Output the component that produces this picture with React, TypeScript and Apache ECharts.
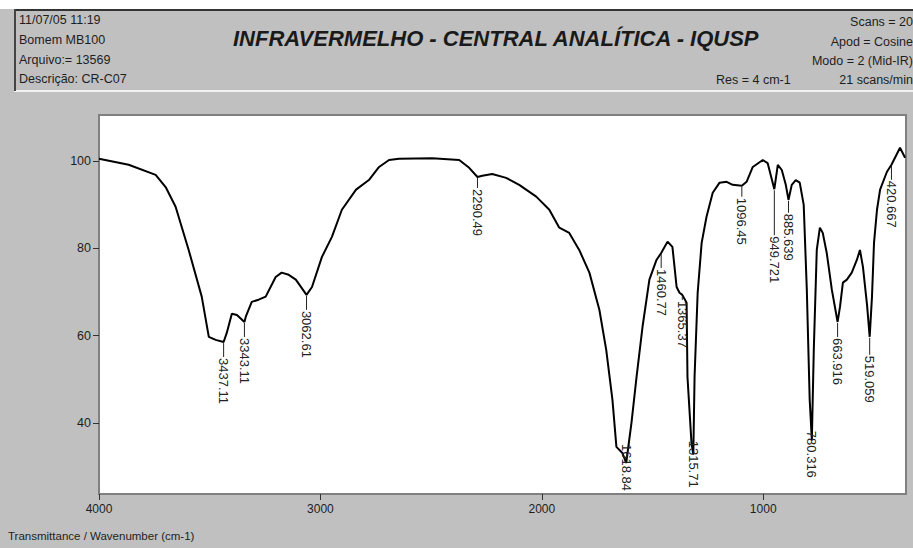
import React, { useEffect, useRef } from "react";
import * as echarts from "echarts";

// Spectrum (wavenumber cm-1 -> % transmittance)
const wavenumbers = [4000, 3866, 3744, 3699, 3654, 3595, 3536, 3504, 3473, 3437.11, 3423, 3400, 3377, 3343.11, 3337, 3310, 3279, 3247, 3202, 3175, 3143, 3111, 3062.61, 3038, 2993, 2948, 2903, 2839, 2781, 2735, 2690, 2645, 2495, 2373, 2328, 2290.49, 2269, 2224, 2161, 2102, 2025, 1966, 1921, 1876, 1831, 1785, 1740, 1709, 1681, 1663, 1636, 1618.84, 1595, 1572, 1545, 1514, 1482, 1460.77, 1432, 1410, 1391, 1378, 1365.37, 1346, 1342, 1324, 1315.71, 1310, 1296, 1278, 1256, 1228, 1197, 1165, 1138, 1096.45, 1075, 1047, 1002, 980, 949.721, 934, 916, 898, 885.639, 871, 853, 835, 817, 803, 790, 780.316, 771.5, 758, 744, 731, 713, 690, 663.916, 653, 640, 622, 600, 577, 563, 549.5, 531, 519.059, 508.6, 499.5, 486, 472, 441, 420.667, 382, 359];
const transmittance = [100.5, 99.1, 96.8, 94.0, 89.5, 79.6, 68.9, 59.7, 59.0, 58.5, 60.6, 65.0, 64.7, 63.1, 64.3, 67.7, 68.2, 68.9, 73.4, 74.4, 73.9, 72.8, 69.3, 71.1, 78.0, 82.6, 88.8, 93.4, 95.6, 98.6, 100.2, 100.5, 100.6, 100.2, 98.4, 96.3, 96.6, 97.0, 96.1, 94.5, 91.8, 88.8, 84.7, 83.5, 79.6, 74.4, 65.9, 56.7, 45.3, 34.5, 33.1, 30.8, 40.0, 50.5, 62.0, 72.8, 77.3, 78.9, 81.5, 80.3, 71.1, 69.8, 69.3, 67.5, 50.5, 35.4, 32.7, 50.5, 69.8, 81.2, 87.2, 92.7, 95.0, 95.2, 94.5, 94.3, 95.2, 98.6, 100.2, 99.5, 93.5, 99.1, 97.9, 94.5, 91.1, 94.5, 95.6, 95.0, 89.9, 70.5, 45.3, 36.1, 56.7, 79.6, 84.7, 83.5, 78.9, 70.5, 63.1, 66.6, 72.1, 72.8, 74.4, 77.3, 79.6, 75.7, 67.0, 59.7, 68.9, 81.2, 88.8, 93.4, 97.5, 99.1, 103.0, 100.7];

// Peak picks
const peakWavenumbers = [3437.11, 3343.11, 3062.61, 2290.49, 1618.84, 1460.77, 1365.37, 1315.71, 1096.45, 949.721, 885.639, 780.316, 663.916, 519.059, 420.667];
const peakLabels = ["3437.11", "3343.11", "3062.61", "2290.49", "1618.84", "1460.77", "1365.37", "1315.71", "1096.45", "949.721", "885.639", "780.316", "663.916", "519.059", "420.667"];
// style: pixel offset from the peak point to where the label text starts
const peakLabelOffsets = [15, 15, 15, 11, -20, 15, 5, -15, 11, 46, 13, -10, 15, 18, 15];

const xTicks = [4000, 3000, 2000, 1000];
const yTicks = [40, 60, 80, 100];

const headerLeft = ["11/07/05 11:19", "Bomem MB100", "Arquivo:= 13569", "Descrição: CR-C07"];
const headerRight = ["Scans = 20", "Apod = Cosine", "Modo = 2 (Mid-IR)"];
const title = "INFRAVERMELHO - CENTRAL ANALÍTICA - IQUSP";
const axisTitle = "Transmittance / Wavenumber (cm-1)";

const FONT = "'Liberation Sans', Arial, sans-serif";

export default function App() {
  const ref = useRef<HTMLDivElement>(null);
  useEffect(() => {
    if (!ref.current) return;
    const chart = echarts.init(ref.current, null, { renderer: "svg" });
    const line = wavenumbers.map((w, i) => [w, transmittance[i]]);
    const peaks = peakWavenumbers.map((w, i) => {
      const idx = wavenumbers.indexOf(w);
      return [w, transmittance[idx], peakLabelOffsets[i], i];
    });
    const textColor = "#1e1e1e";
    chart.setOption({
      animation: false,
      backgroundColor: "#c0c0c0",
      textStyle: { fontFamily: FONT },
      grid: {
        left: 99,
        right: 7,
        top: 115,
        bottom: 54,
        show: true,
        backgroundColor: "#ffffff",
        borderColor: "#808080",
        borderWidth: 2,
      },
      xAxis: {
        type: "value",
        inverse: true,
        min: 355,
        max: 4000,
        axisLine: { show: false },
        splitLine: { show: false },
        axisTick: { show: true, customValues: xTicks, length: 6, lineStyle: { color: "#333" } },
        axisLabel: {
          customValues: xTicks,
          fontSize: 12,
          color: textColor,
          margin: 9,
          fontFamily: FONT,
          formatter: (v: number) => String(v),
        },
      },
      yAxis: {
        type: "value",
        min: 23.7,
        max: 110.5,
        axisLine: { show: false },
        splitLine: { show: false },
        axisTick: { show: true, customValues: yTicks, length: 6, lineStyle: { color: "#333" } },
        axisLabel: {
          customValues: yTicks,
          fontSize: 12.5,
          color: textColor,
          margin: 8,
          fontFamily: FONT,
          formatter: (v: number) => String(v),
        },
      },
      series: [
        {
          type: "line",
          data: line,
          symbol: "none",
          lineStyle: { color: "#000", width: 2 },
          z: 3,
        },
        {
          type: "custom",
          data: peaks,
          z: 4,
          clip: false,
          renderItem: (params: any, api: any) => {
            const p = api.coord([api.value(0), api.value(1)]);
            const off = api.value(2);
            const label = peakLabels[api.value(3)];
            const children: any[] = [];
            if (off > 2) {
              children.push({
                type: "line",
                shape: { x1: p[0], y1: p[1] + 1, x2: p[0], y2: p[1] + off },
                style: { stroke: "#222", lineWidth: 1 },
              });
            }
            children.push({
              type: "text",
              x: p[0],
              y: p[1] + off + 1,
              rotation: -Math.PI / 2,
              style: {
                text: label,
                fontSize: 13,
                fontFamily: FONT,
                fill: "#222",
                align: "left",
                verticalAlign: "middle",
              },
            });
            return { type: "group", children };
          },
        },
      ],
      graphic: [
        { type: "rect", shape: { x: 0, y: 0, width: 913, height: 9 }, style: { fill: "#ffffff" } },
        { type: "rect", shape: { x: 14, y: 90, width: 899, height: 2 }, style: { fill: "#f2f2f2" } },
        { type: "rect", shape: { x: 14, y: 9, width: 899, height: 2 }, style: { fill: "#333333" } },
        { type: "rect", shape: { x: 14, y: 9, width: 2, height: 82 }, style: { fill: "#444444" } },
        ...headerLeft.map((t, i) => ({
          type: "text",
          x: 19,
          y: [20, 40, 60, 79][i],
          style: { text: t, fontSize: 12.5, fontFamily: FONT, fill: textColor, verticalAlign: "middle", align: "left" },
        })),
        {
          type: "text",
          x: 233,
          y: 38,
          style: { text: title, fontSize: 22, fontWeight: "bold", fontStyle: "italic", fontFamily: FONT, fill: "#1a1a1a", verticalAlign: "middle", align: "left" },
        },
        ...headerRight.map((t, i) => ({
          type: "text",
          x: 913,
          y: [22, 42, 61][i],
          style: { text: t, fontSize: 12.5, fontFamily: FONT, fill: textColor, verticalAlign: "middle", align: "right" },
        })),
        {
          type: "text",
          x: 716,
          y: 80,
          style: { text: "Res = 4 cm-1", fontSize: 12.5, fontFamily: FONT, fill: textColor, verticalAlign: "middle", align: "left" },
        },
        {
          type: "text",
          x: 913,
          y: 80,
          style: { text: "21 scans/min", fontSize: 12.5, fontFamily: FONT, fill: textColor, verticalAlign: "middle", align: "right" },
        },
        {
          type: "text",
          x: 8,
          y: 536,
          style: { text: axisTitle, fontSize: 11.5, fontFamily: FONT, fill: textColor, verticalAlign: "middle", align: "left" },
        },
      ],
    });
    return () => chart.dispose();
  }, []);
  return (
    <div
      ref={ref}
      style={{ position: "fixed", left: 0, top: 0, width: 913, height: 548, background: "#c0c0c0" }}
    />
  );
}
